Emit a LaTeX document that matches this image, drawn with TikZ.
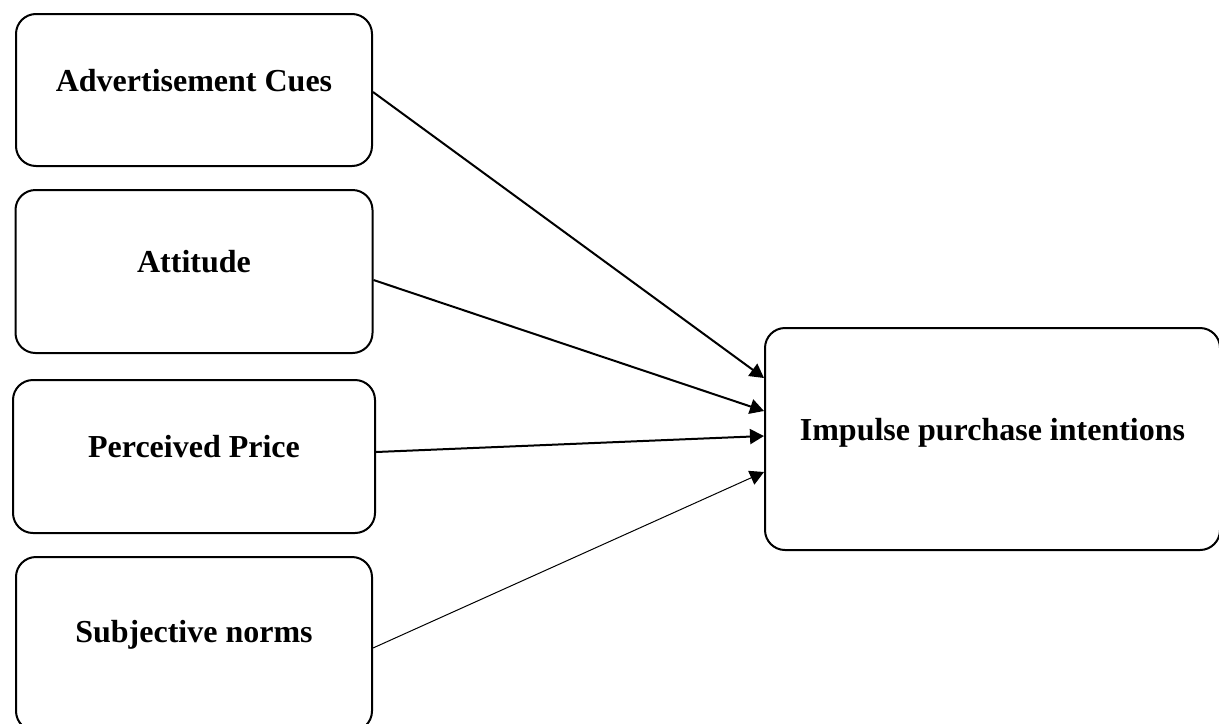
\documentclass[tikz,border=0pt]{standalone}
\usepackage{fontspec}
\setmainfont{Liberation Serif}
\usetikzlibrary{positioning, arrows.meta}
\tikzset{
  factor/.style   ={draw, rounded corners=10pt, align=center,
                    font=\fontsize{16}{19}\selectfont\bfseries,
                    line width=1pt, text height=11pt, text depth=10pt,
                    minimum width=178pt, minimum height=78pt},
  outcome/.style  ={factor, minimum width=227.5pt, minimum height=111pt},
  flow/.style     ={-{Triangle[length=7pt,width=7.5pt]}, line width=1pt},
  thinflow/.style ={flow, line width=0.5pt},
}

\begin{document}
\begin{tikzpicture}[x=0.5pt, y=-0.5pt]
  \useasboundingbox (0,0) rectangle (1219,723);

  % predictors (left column)
  \node[factor, minimum height=76pt] (adcues) at (194,90) {Advertisement Cues};
  \node[factor, minimum width=178.5pt, minimum height=81.5pt,
        below=11pt of adcues] (attitude) {Attitude};
  \node[factor, minimum width=181pt, minimum height=76.5pt,
        below=12.5pt of attitude] (price) {Perceived Price};
  \node[factor, minimum height=87pt, text depth=13pt,
        below=11pt of price] (norms) {Subjective norms};

  % outcome
  \node[outcome] (intent) at (992.5,439) {Impulse purchase intentions};

  % arrows
  \draw[flow] ([yshift=-1pt]adcues.east) -- ([yshift=30.5pt]intent.west);
  \draw[flow] ([yshift=-4.25pt]attitude.east) -- ([yshift=14pt]intent.west);
  \draw[flow] ([yshift=2.25pt]price.east) -- ([yshift=1.5pt]intent.west);
  \draw[thinflow] ([yshift=-2pt]norms.east) -- ([yshift=-16.5pt]intent.west);

\end{tikzpicture}
\end{document}
